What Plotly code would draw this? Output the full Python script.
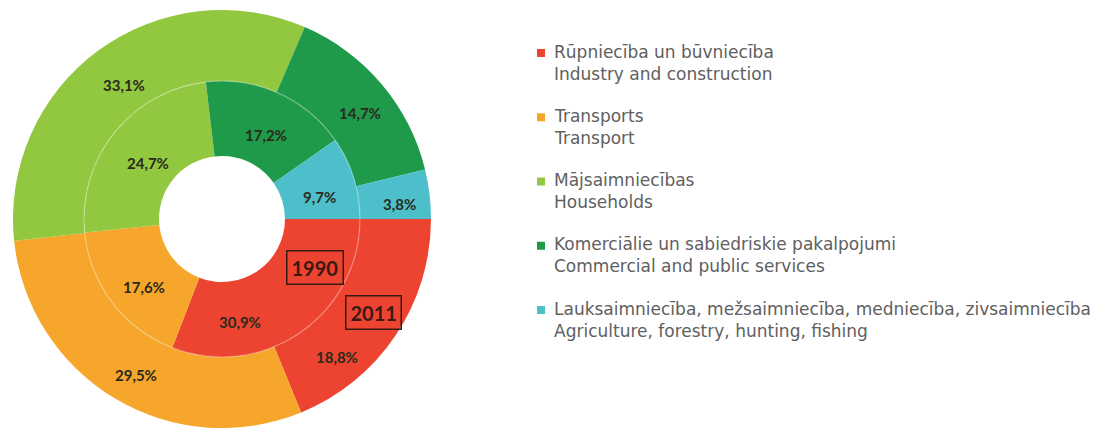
import plotly.graph_objects as go

# ---- data ----
labels_lv = [
    "Rūpniecība un būvniecība",
    "Transports",
    "Mājsaimniecības",
    "Komerciālie un sabiedriskie pakalpojumi",
    "Lauksaimniecība, mežsaimniecība, medniecība, zivsaimniecība",
]
labels_en = [
    "Industry and construction",
    "Transport",
    "Households",
    "Commercial and public services",
    "Agriculture, forestry, hunting, fishing",
]
values_1990 = [30.9, 17.6, 24.7, 17.2, 9.7]
values_2011 = [18.8, 29.5, 33.1, 14.7, 3.8]
years = ["1990", "2011"]
colors = ["#ec4430", "#f6a62a", "#92c740", "#1f9a4a", "#4dbfcb"]

# ---- layout (pixels from top-left) ----
W, H = 1119, 429
cx, cy = 222, 219
r_out, r_mid, r_hole = 209, 138, 63
# label anchor points
pos_2011 = [(337, 357), (136, 375), (124, 85), (360, 113), (399, 204)]
pos_1990 = [(240, 322), (144, 287), (148, 163), (266, 135), (319, 197)]
year_pos = [(315, 267), (373, 312)]


def fmt(v):
    return f"{v:.1f}".replace(".", ",") + "%"


def dom(r):
    return dict(
        x=[(cx - r) / W, (cx + r) / W],
        y=[(H - cy - r) / H, (H - cy + r) / H],
    )


def px(x, y):
    return x / W, (H - y) / H


fig = go.Figure()
fig.add_trace(go.Pie(
    labels=labels_en, values=values_2011, textinfo="none",
    sort=False, direction="clockwise", rotation=90,
    marker=dict(colors=colors, line=dict(width=0)),
    hole=r_mid / r_out, domain=dom(r_out),
    hoverinfo="skip", showlegend=False,
))
fig.add_trace(go.Pie(
    labels=labels_en, values=values_1990, textinfo="none",
    sort=False, direction="clockwise", rotation=90,
    marker=dict(colors=colors, line=dict(width=0)),
    hole=r_hole / r_mid, domain=dom(r_mid),
    hoverinfo="skip", showlegend=False,
))

shapes = []
shapes.append(dict(
    type="circle", xref="paper", yref="paper",
    x0=(cx - r_mid) / W, x1=(cx + r_mid) / W,
    y0=(H - cy - r_mid) / H, y1=(H - cy + r_mid) / H,
    line=dict(color="rgba(255,255,255,0.22)", width=1.5),
))

annotations = []
lab_font = dict(family="Lato", size=15, color="#2a2a1c")
for vals, poss in ((values_2011, pos_2011), (values_1990, pos_1990)):
    for v, (x, y) in zip(vals, poss):
        ax, ay = px(x, y)
        annotations.append(dict(
            x=ax, y=ay, xref="paper", yref="paper", text=f"<b>{fmt(v)}</b>",
            showarrow=False, xanchor="center", yanchor="middle", font=lab_font,
        ))

for yr, (x, y) in zip(years, year_pos):
    ax, ay = px(x, y)
    annotations.append(dict(
        x=ax, y=ay, xref="paper", yref="paper",
        text=f"<b>{yr}</b>", showarrow=False,
        font=dict(family="Lato", size=20, color="#3a1a12"),
        bordercolor="#3a1a12", borderwidth=1.5, borderpad=4,
        xanchor="center", yanchor="middle",
    ))

# legend: square + two-line label (Latvian / English)
leg_x, leg_y0, leg_dy = 541, 53, 64.25
for i, (lv, en, c) in enumerate(zip(labels_lv, labels_en, colors)):
    yy = leg_y0 + i * leg_dy
    shapes.append(dict(
        type="rect", xref="paper", yref="paper",
        x0=(leg_x - 4) / W, x1=(leg_x + 4) / W,
        y0=(H - yy - 4) / H, y1=(H - yy + 4) / H,
        fillcolor=c, line=dict(width=0),
    ))
    ax, ay = px(leg_x + 11, yy - 13.5)
    annotations.append(dict(
        x=ax, y=ay, xref="paper", yref="paper", text=f"{lv}<br>{en}",
        showarrow=False, xanchor="left", yanchor="top", align="left",
        font=dict(family="DejaVu Sans", size=17, color="#606060"),
    ))

fig.update_layout(
    width=W, height=H,
    margin=dict(l=0, r=0, t=0, b=0),
    paper_bgcolor="white", plot_bgcolor="white",
    shapes=shapes, annotations=annotations,
    showlegend=False,
)
fig.write_html("out.html", config={"displayModeBar": False},
               post_script="document.body.style.margin='0px';")
